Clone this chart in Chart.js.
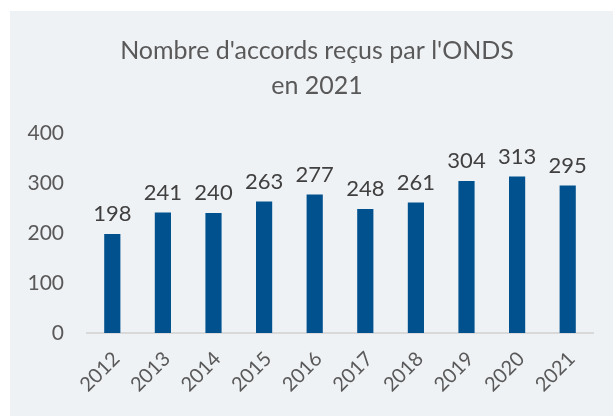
<!DOCTYPE html>
<html>
<head>
<meta charset="utf-8">
<script src="https://cdn.jsdelivr.net/npm/chart.js@4/dist/chart.umd.min.js"></script>
<style>
  body { margin: 0; background: #ffffff; }
  #panel { position: absolute; left: 10px; top: 11px; width: 603px; height: 405px; background: #eff2f5; }
</style>
</head>
<body>
<div id="panel"><canvas id="accordsChart"></canvas></div>
<script>
// Données du graphique
const annees = ['2012', '2013', '2014', '2015', '2016', '2017', '2018', '2019', '2020', '2021'];
const accords = [198, 241, 240, 263, 277, 248, 261, 304, 313, 295];
const titre = ["Nombre d'accords reçus par l'ONDS", 'en 2021'];

// Titre centré comme dans l'original (décalé par rapport à la zone du graphique)
const titrePlugin = {
    id: 'titre',
    afterDraw(chart) {
        const ctx = chart.ctx;
        ctx.save();
        ctx.font = '25px Lato';
        ctx.fillStyle = '#595959';
        ctx.textAlign = 'center';
        ctx.textBaseline = 'middle';
        titre.forEach((ligne, i) => {
            ctx.fillText(ligne, 307, 39.5 + i * 35);
        });
        ctx.restore();
    }
};

// Valeurs au-dessus des barres
const valeursPlugin = {
    id: 'valeurs',
    afterDatasetsDraw(chart) {
        const ctx = chart.ctx;
        ctx.save();
        ctx.font = '22px Lato';
        ctx.fillStyle = '#404040';
        ctx.textAlign = 'center';
        ctx.textBaseline = 'bottom';
        chart.getDatasetMeta(0).data.forEach((bar, i) => {
            ctx.fillText(accords[i], bar.x, bar.y - 9);
        });
        ctx.restore();
    }
};

const accordsChart = new Chart(
    document.getElementById('accordsChart'),
    {
        type: 'bar',
        data: {
            labels: annees,
            datasets: [{
                data: accords,
                backgroundColor: '#00518e',
                barPercentage: 0.32,
                categoryPercentage: 1
            }]
        },
        options: {
            responsive: true,
            maintainAspectRatio: false,
            animation: false,
            layout: { padding: { left: 0, right: 20, top: 122, bottom: 0 } },
            plugins: {
                legend: { display: false },
                tooltip: { enabled: false },
                title: { display: false }
            },
            scales: {
                x: {
                    grid: { display: false },
                    border: { color: '#d9d9d9', width: 2 },
                    ticks: {
                        color: '#595959',
                        font: { family: 'Lato', size: 20 },
                        minRotation: 45,
                        maxRotation: 45,
                        padding: 6,
                        labelOffset: 4
                    },
                    afterFit: s => { s.height = 83; }
                },
                y: {
                    min: 0,
                    max: 400,
                    grid: { display: false },
                    border: { display: false },
                    ticks: {
                        stepSize: 100,
                        color: '#595959',
                        font: { family: 'Lato', size: 21 },
                        padding: 15
                    },
                    afterFit: s => { s.width = 77; }
                }
            }
        },
        plugins: [valeursPlugin, titrePlugin]
    }
);
</script>
</body>
</html>
